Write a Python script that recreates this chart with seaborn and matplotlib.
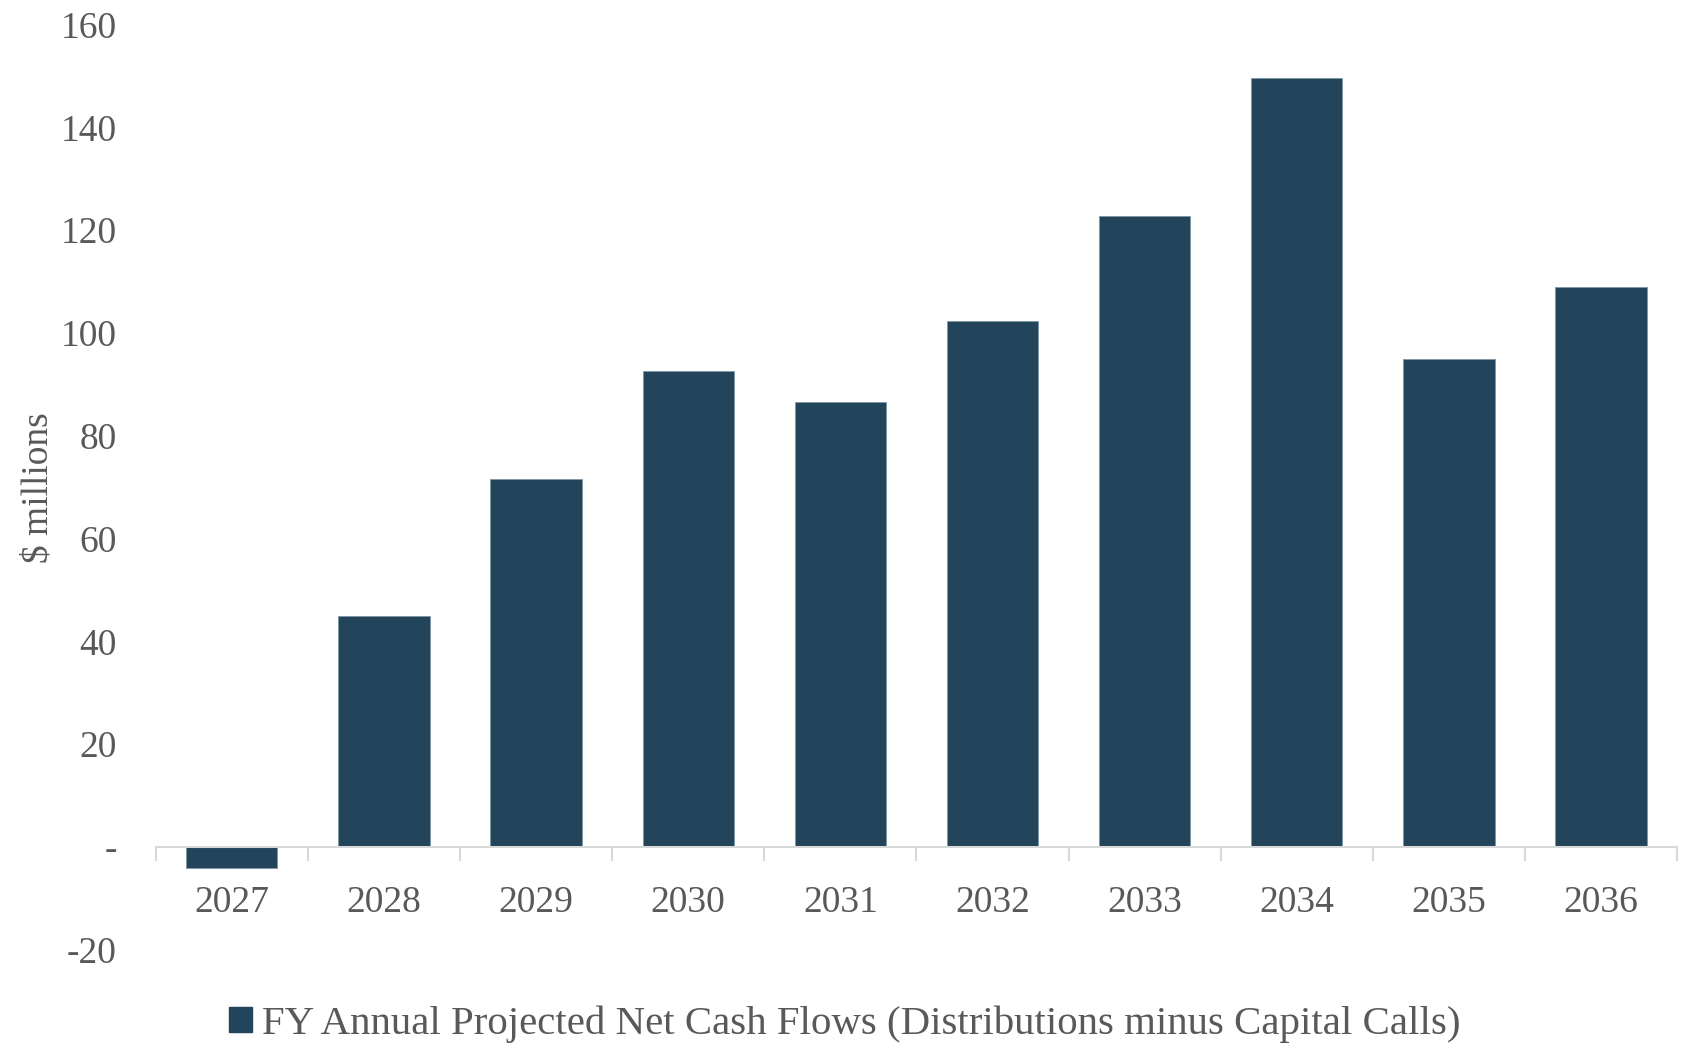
import matplotlib
matplotlib.use("Agg")
import matplotlib.pyplot as plt
import seaborn as sns
import pandas as pd
from matplotlib.patches import Patch
from matplotlib.ticker import FixedLocator

years = ["2027", "2028", "2029", "2030", "2031", "2032", "2033", "2034", "2035", "2036"]
net_cash_flows = [-4.1, 44.9, 71.6, 92.7, 86.6, 102.3, 122.8, 149.7, 95.0, 109.0]
y_ticks = [-20, 0, 20, 40, 60, 80, 100, 120, 140, 160]
y_tick_labels = ["-20", "-", "20", "40", "60", "80", "100", "120", "140", "160"]
series_label = "FY Annual Projected Net Cash Flows (Distributions minus Capital Calls)"

bar_color = "#22455B"
text_color = "#595959"
axis_color = "#D9D9D9"

sns.set_theme(style="white")
plt.rcParams["font.family"] = ["Liberation Serif", "DejaVu Serif"]

df = pd.DataFrame({"year": years, "value": net_cash_flows})

fig = plt.figure(figsize=(16.83, 10.43), dpi=100)
ax = fig.add_axes([0.0925, 0.0894, 0.904, 0.8870])

sns.barplot(data=df, x="year", y="value", color=bar_color, width=0.6,
            saturation=1, edgecolor="#7f96a6", linewidth=0.6, ax=ax)

ax.set_ylim(-20, 160)
ax.set_xlim(-0.5, len(years) - 0.5)
ax.set_yticks(y_ticks)
ax.set_yticklabels(y_tick_labels)

for s in ["top", "right", "left"]:
    ax.spines[s].set_visible(False)
ax.spines["bottom"].set_position(("data", 0))
ax.spines["bottom"].set_color(axis_color)
ax.spines["bottom"].set_linewidth(1.5)

ax.xaxis.set_minor_locator(FixedLocator([i - 0.5 for i in range(len(years) + 1)]))
ax.tick_params(axis="x", which="minor", length=10, width=1.5, color=axis_color, direction="out", bottom=True)
ax.tick_params(axis="x", which="major", length=0, pad=28, labelsize=27, labelcolor=text_color)
ax.tick_params(axis="y", which="major", length=0, pad=28, labelsize=27, labelcolor=text_color)

ax.set_xlabel("")
ax.set_ylabel("$ millions", fontsize=27, color=text_color)
ax.yaxis.set_label_coords(-0.066, 0.5)

handle = Patch(facecolor=bar_color, edgecolor=bar_color)
fig.legend([handle], [series_label], loc="center", bbox_to_anchor=(0.502, 0.018),
           frameon=False, fontsize=29.4, labelcolor=text_color,
           handlelength=0.55, handleheight=0.55, handletextpad=0.25)

fig.savefig("out.png", dpi=100, facecolor="white")
